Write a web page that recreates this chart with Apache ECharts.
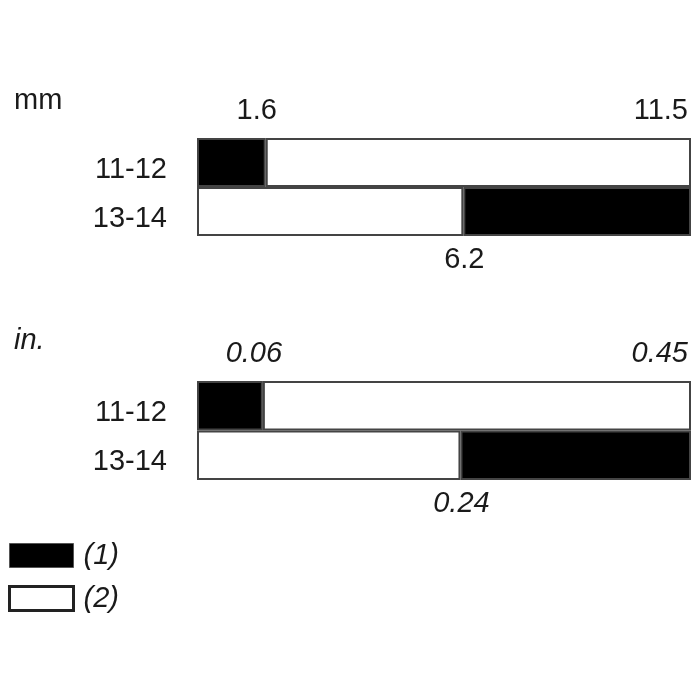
<!DOCTYPE html>
<html>
<head>
<meta charset="utf-8">
<script src="https://cdn.jsdelivr.net/npm/echarts@6/dist/echarts.min.js"></script>
<style>
  html, body { margin: 0; padding: 0; background: #fff; }
  #chart { width: 700px; height: 700px; }
</style>
</head>
<body>
<div id="chart"></div>
<script>
// categories and values
const ages = ['11-12', '13-14'];
const mmEdge = [1.6, 6.2];      // where the first segment ends
const mmTotal = 11.5;
const inEdge = [0.06, 0.24];
const inTotal = 0.45;
const legendNames = ['(1)', '(2)'];

const BLACK = '#000';
const WHITE = '#fff';
const EDGE = '#444';
const INK = '#1a1a1a';
const FONT = 'Liberation Sans, Arial, sans-serif';
const SIZE = 29;

// first segment of 11-12 is black, of 13-14 is white
const firstColor = [BLACK, WHITE];
const secondColor = [WHITE, BLACK];

function segments(edge, total, idx, italic, digits) {
  const fmt = (v) => v.toFixed(digits);
  const txt = { fontFamily: FONT, fontSize: SIZE, color: INK, fontStyle: italic ? 'italic' : 'normal' };
  const first = edge.map((v, i) => ({
    value: v,
    itemStyle: { color: firstColor[i] },
    label: i === 0
      ? Object.assign({ show: true, position: ['100%', 0], align: 'center', verticalAlign: 'middle', offset: [-9, -27] }, txt)
      : Object.assign({ show: true, position: ['100%', '100%'], align: 'center', verticalAlign: 'middle', offset: [1, 24] }, txt)
  }));
  const second = edge.map((v, i) => ({
    value: total - v,
    itemStyle: { color: secondColor[i] },
    label: i === 0
      ? Object.assign({ show: true, position: ['100%', 0], align: 'right', verticalAlign: 'middle', offset: [-3, -27] }, txt)
      : { show: false }
  }));
  const common = {
    type: 'bar',
    stack: 'g' + idx,
    xAxisIndex: idx,
    yAxisIndex: idx,
    barWidth: '100%',
    silent: true,
    itemStyle: { borderColor: EDGE, borderWidth: 2 }
  };
  return [
    Object.assign({}, common, { name: 'a' + idx, data: first, label: { formatter: (p) => fmt(edge[p.dataIndex]) } }),
    Object.assign({}, common, { name: 'b' + idx, data: second, label: { formatter: () => fmt(total) } })
  ];
}

const chart = echarts.init(document.getElementById('chart'));

const yAxisBase = {
  type: 'category',
  data: ages,
  inverse: true,
  axisLine: { show: false },
  axisTick: { show: false },
  // labels sit a little below the middle of each bar in the original
  axisLabel: { fontFamily: FONT, fontSize: SIZE, color: INK, margin: 30, verticalAlign: 'top', lineHeight: 14 }
};

chart.setOption({
  animation: false,
  backgroundColor: '#fff',
  title: [
    { text: 'mm', left: 14, top: 86, padding: 0,
      textStyle: { fontFamily: FONT, fontSize: SIZE, fontWeight: 'normal', color: INK } },
    { text: 'in.', left: 14, top: 326, padding: 0,
      textStyle: { fontFamily: FONT, fontSize: SIZE, fontWeight: 'normal', fontStyle: 'italic', color: INK } }
  ],
  grid: [
    { left: 197, width: 494, top: 138, height: 98 },
    { left: 197, width: 494, top: 381, height: 99 }
  ],
  xAxis: [
    { type: 'value', gridIndex: 0, min: 0, max: mmTotal, show: false },
    { type: 'value', gridIndex: 1, min: 0, max: inTotal, show: false }
  ],
  yAxis: [
    Object.assign({ gridIndex: 0 }, yAxisBase),
    Object.assign({ gridIndex: 1 }, yAxisBase)
  ],
  legend: {
    orient: 'vertical',
    left: 8,
    top: 541,
    padding: 0,
    itemWidth: 64,
    itemHeight: 24,
    itemGap: 14,
    icon: 'rect',
    selectedMode: false,
    textStyle: { fontFamily: FONT, fontSize: SIZE, fontStyle: 'italic', color: INK, padding: [0, 0, 0, 5] },
    data: [
      { name: legendNames[0], itemStyle: { color: BLACK, borderColor: '#555', borderWidth: 1 } },
      { name: legendNames[1], itemStyle: { color: WHITE, borderColor: '#222', borderWidth: 3 } }
    ]
  },
  series: [
    ...segments(mmEdge, mmTotal, 0, false, 1),
    ...segments(inEdge, inTotal, 1, true, 2),
    // legend-only series sharing the stack so they take no room
    { type: 'bar', name: legendNames[0], stack: 'g0', xAxisIndex: 0, yAxisIndex: 0, data: [], itemStyle: { color: BLACK } },
    { type: 'bar', name: legendNames[1], stack: 'g0', xAxisIndex: 0, yAxisIndex: 0, data: [], itemStyle: { color: WHITE } }
  ]
});
</script>
</body>
</html>
